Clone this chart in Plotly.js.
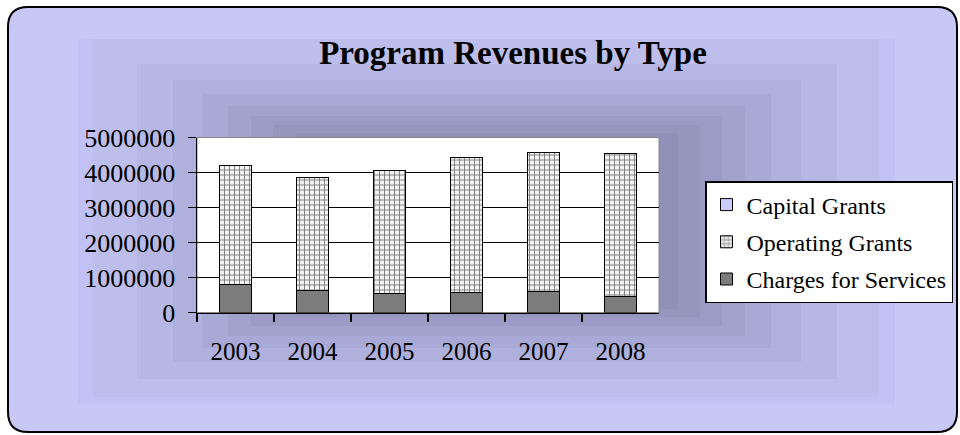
<!DOCTYPE html>
<html>
<head>
<meta charset="utf-8">
<script src="https://cdn.plot.ly/plotly-3.0.1.min.js"></script>
<style>html,body{margin:0;padding:0;background:#fff}#chart{width:960px;height:435px}</style>
</head>
<body>
<div id="chart"></div>
<script>
const years = ["2003", "2004", "2005", "2006", "2007", "2008"];
const chargesForServices = [810000, 630000, 550000, 580000, 590000, 470000];
const operatingGrants = [3400000, 3230000, 3510000, 3860000, 3980000, 4070000];
const capitalGrants = [0, 0, 0, 0, 0, 0];
const yTicks = [0, 1000000, 2000000, 3000000, 4000000, 5000000];
const yTickLabels = ["0", "1000000", "2000000", "3000000", "4000000", "5000000"];

const W = 960, H = 435;
const px = x => x / W;
const py = y => 1 - y / H;

// concentric background layers [x0, y0, x1, y1, color]
const layers = [
  [78, 39, 895, 404, "#c1c1f5"],
  [93, 39, 879, 397, "#bebeec"],
  [137, 64, 837, 379, "#b7b7e5"],
  [173, 80, 801, 362, "#b0b0dd"],
  [202, 94, 771, 348, "#a9a9d5"],
  [228, 106, 745, 336, "#a2a2cd"],
  [251, 116, 722, 326, "#9b9bc5"],
  [273, 125, 700, 317, "#9595be"],
  [296, 133, 678, 309, "#9090b8"],
  [318, 140, 657, 302, "#8c8cb3"]
];

const shapes = [];
const r = 20, L = 8, T = 7, R = 957, B = 432;
function P(x, y) { return px(x).toFixed(5) + "," + py(y).toFixed(5); }
shapes.push({
  type: "path", xref: "paper", yref: "paper", layer: "below",
  path: "M " + P(L + r, T) + " L " + P(R - r, T) + " Q " + P(R, T) + " " + P(R, T + r) +
        " L " + P(R, B - r) + " Q " + P(R, B) + " " + P(R - r, B) +
        " L " + P(L + r, B) + " Q " + P(L, B) + " " + P(L, B - r) +
        " L " + P(L, T + r) + " Q " + P(L, T) + " " + P(L + r, T) + " Z",
  fillcolor: "#c8c8f6", line: {color: "#000", width: 2}
});
layers.forEach(l => shapes.push({
  type: "rect", xref: "paper", yref: "paper", layer: "below",
  x0: px(l[0]), x1: px(l[2]), y0: py(l[3]), y1: py(l[1]),
  fillcolor: l[4], line: {width: 0}
}));
shapes.push({
  type: "rect", xref: "paper", yref: "paper", layer: "below",
  x0: px(197), x1: px(659), y0: py(312.5), y1: py(137.5),
  fillcolor: "#fff", line: {color: "#888", width: 1}
});

const font = "Liberation Serif, Times New Roman, serif";

const traces = [
  {
    type: "bar", name: "Charges for Services", x: years, y: chargesForServices,
    legendgroup: "c", legendrank: 3,
    marker: {color: "#7c7c7c", line: {color: "#000", width: 1}}
  },
  {
    type: "bar", name: "Operating Grants", x: years, y: operatingGrants,
    legendgroup: "o", legendrank: 2,
    marker: {
      color: "#eeeeee", line: {color: "#000", width: 1},
      pattern: {shape: "+", bgcolor: "#f2f2f2", fgcolor: "#707070", size: 5, solidity: 0.3}
    }
  },
  {
    type: "bar", name: "Capital Grants", x: years, y: capitalGrants,
    legendgroup: "k", legendrank: 1,
    marker: {color: "#ccccff", line: {color: "#000", width: 1}}
  }
];

const layout = {
  width: W, height: H,
  margin: {l: 0, r: 0, t: 0, b: 0, pad: 0},
  paper_bgcolor: "#fff",
  plot_bgcolor: "rgba(0,0,0,0)",
  barmode: "stack",
  bargap: 0.584,
  font: {family: font, color: "#000", size: 25},
  title: {
    text: "<b>Program Revenues by Type</b>",
    x: 513 / W, xanchor: "center", xref: "paper",
    y: py(52), yanchor: "middle", yref: "paper",
    font: {family: font, size: 33, color: "#000"}
  },
  xaxis: {
    domain: [px(197), px(659)],
    type: "category",
    showline: true, linecolor: "#000", linewidth: 1.5,
    ticks: "outside", ticklen: 8, tickwidth: 1.5, tickcolor: "#000",
    tickson: "boundaries",
    ticklabelstandoff: 16,
    showgrid: false,
    tickfont: {family: font, size: 25, color: "#000"}
  },
  yaxis: {
    domain: [py(312.5), py(137.5)],
    range: [0, 5000000],
    tickmode: "array", tickvals: yTicks, ticktext: yTickLabels,
    showline: true, linecolor: "#000", linewidth: 1.5,
    ticks: "outside", ticklen: 8, tickwidth: 1.5, tickcolor: "#000",
    ticklabelstandoff: 7,
    showgrid: true, gridcolor: "#000", gridwidth: 1.5,
    zeroline: false,
    tickfont: {family: font, size: 26, color: "#000"}
  },
  showlegend: true,
  legend: {
    x: px(705), xanchor: "left", xref: "paper",
    y: py(181), yanchor: "top", yref: "paper",
    bgcolor: "#fff", bordercolor: "#000", borderwidth: 1.5,
    font: {family: font, size: 24, color: "#000"},
    traceorder: "grouped",
    tracegroupgap: 3,
    itemwidth: 30
  },
  shapes: shapes
};

Plotly.newPlot("chart", traces, layout, {displayModeBar: false, staticPlot: true});
</script>
</body>
</html>
